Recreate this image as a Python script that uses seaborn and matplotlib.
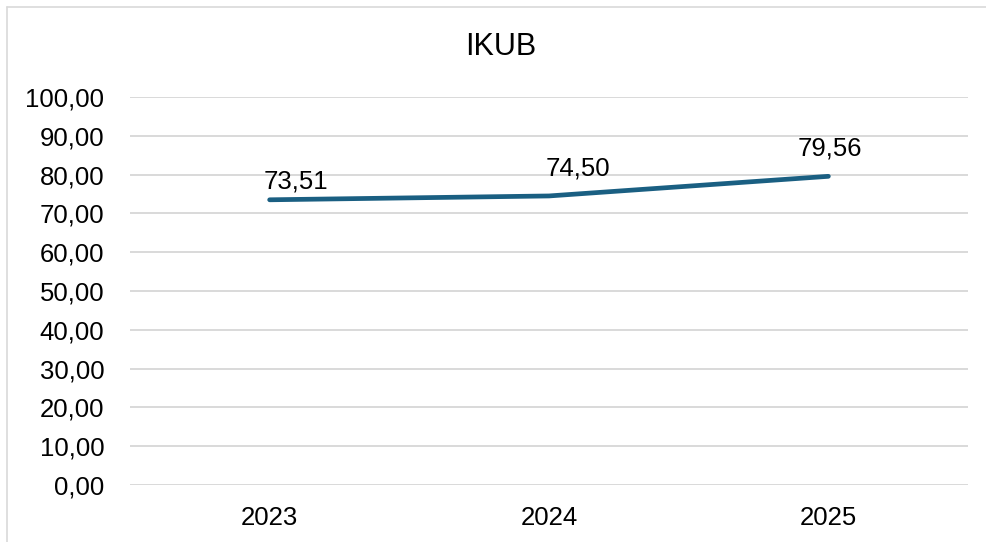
import pandas as pd
import seaborn as sns
import matplotlib.pyplot as plt
from matplotlib.ticker import FuncFormatter, MultipleLocator
from matplotlib.lines import Line2D

# data
years = ['2023', '2024', '2025']
ikub = [73.51, 74.50, 79.56]
# label offsets (points) as they sit in the original
label_dx = [19, 21, 1]
label_dy = [13, 20, 20]

df = pd.DataFrame({'year': years, 'ikub': ikub})

sns.set_theme(style='white')
plt.rcParams['font.family'] = ['Liberation Sans', 'DejaVu Sans']

fig = plt.figure(figsize=(9.86, 5.42), dpi=100)
ax = fig.add_axes([0.1318, 0.1052, 0.85, 0.7158])

sns.lineplot(data=df, x='year', y='ikub', ax=ax, color='#1A5F82',
             linewidth=3.4, solid_capstyle='round', sort=False)

# data labels with comma decimals
for i, v in enumerate(ikub):
    ax.annotate(f"{v:.2f}".replace('.', ','), xy=(i, v),
                xytext=(label_dx[i], label_dy[i]), textcoords='offset points',
                ha='center', va='center', fontsize=18.5, color='black')

ax.set_xlim(-0.5, 2.5)
ax.set_ylim(0, 100)
ax.yaxis.set_major_locator(MultipleLocator(10))
ax.yaxis.set_major_formatter(FuncFormatter(lambda v, p: f"{v:.2f}".replace('.', ',')))
ax.grid(axis='y', color='#D9D9D9', linewidth=1.4)
ax.grid(axis='x', visible=False)
ax.set_axisbelow(True)
for s in ax.spines.values():
    s.set_visible(False)
ax.tick_params(axis='y', length=0, pad=18.5, labelsize=18.5, labelcolor='black')
ax.tick_params(axis='x', length=0, pad=15, labelsize=18.5, labelcolor='black')
ax.set_xlabel('')
ax.set_ylabel('')

fig.text(0.508, 0.913, 'IKUB', ha='center', va='center', fontsize=22, color='black')

# thin grey chart frame (top and left edges visible)
fig.add_artist(Line2D([0.0071, 1.0], [0.987, 0.987], transform=fig.transFigure,
                      color='#D9D9D9', linewidth=1.2))
fig.add_artist(Line2D([0.0071, 0.0071], [0.0, 0.987], transform=fig.transFigure,
                      color='#D9D9D9', linewidth=1.2))

fig.savefig('out.png', dpi=100, facecolor='white')
